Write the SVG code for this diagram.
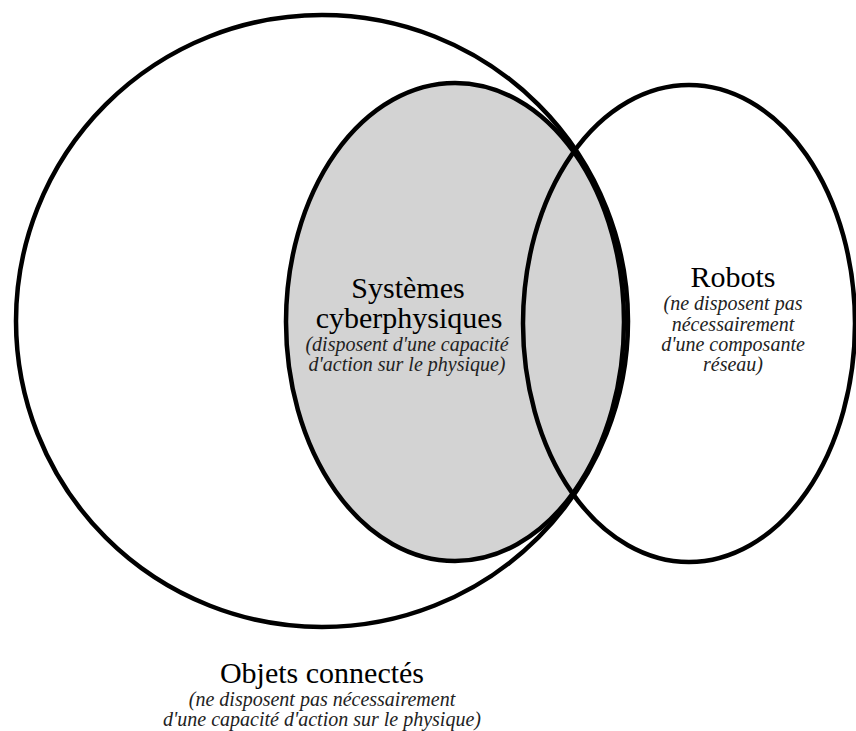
<svg xmlns="http://www.w3.org/2000/svg" width="856" height="731" viewBox="0 0 856 731">
<style>
.shape{stroke:#000;stroke-width:4.5}
.main{font-family:"Liberation Serif","Times New Roman",serif;font-size:30px;fill:#000;text-anchor:middle}
.sub{font-family:"Liberation Serif","Times New Roman",serif;font-size:20px;font-style:italic;fill:#222;text-anchor:middle}
</style>
<rect x="0" y="0" width="856" height="731" fill="#fff"/>
<g id="objets-connectes">
<ellipse class="shape" cx="322" cy="321" rx="306" ry="306" fill="none"/>
<text class="main" x="322" y="683">Objets connectés</text>
<text class="sub" x="322" y="706">(ne disposent pas nécessairement</text>
<text class="sub" x="322" y="726">d'une capacité d'action sur le physique)</text>
</g>
<g id="systemes-cyberphysiques">
<ellipse class="shape" cx="455" cy="322" rx="169" ry="239" fill="#d3d3d3"/>
</g>
<g id="robots">
<ellipse class="shape" cx="689" cy="323.5" rx="166" ry="238.5" fill="none"/>
</g>
<g id="labels">
<text class="main" x="408" y="298">Systèmes</text>
<text class="main" x="409" y="328">cyberphysiques</text>
<text class="sub" x="407" y="351">(disposent d'une capacité</text>
<text class="sub" x="407" y="371">d'action sur le physique)</text>
<text class="main" x="733" y="287">Robots</text>
<text class="sub" x="733" y="310">(ne disposent pas</text>
<text class="sub" x="733" y="331">nécessairement</text>
<text class="sub" x="733" y="351">d'une composante</text>
<text class="sub" x="733" y="371">réseau)</text>
</g>
<g id="connectors"></g>
</svg>
